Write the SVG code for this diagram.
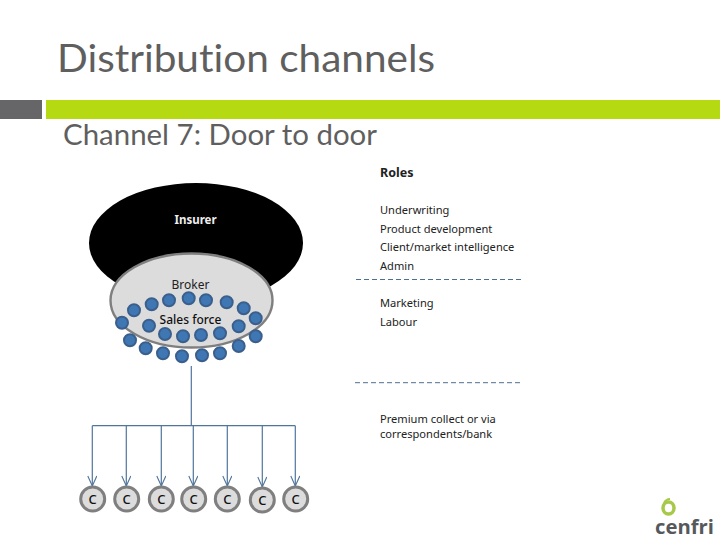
<svg xmlns="http://www.w3.org/2000/svg" width="720" height="540" viewBox="0 0 720 540">
<style>
.h{font-family:Lato,"Open Sans",sans-serif;fill:#5f5f60;font-variant-ligatures:none}
.r{font-family:"Noto Sans","Open Sans",sans-serif;font-size:11.1px;fill:#222}
.b{fill:#3f77b4;stroke:#3a5f8c;stroke-width:2}
.c{fill:#dcdcdc;stroke:#7f7f7f;stroke-width:3}
.ct{font-family:"Noto Sans",sans-serif;font-size:13px;font-weight:500;fill:#111;text-anchor:middle}
.w{fill:none;stroke:#50759b;stroke-width:1.2}
.d{fill:none;stroke:#4d6f92;stroke-width:1;stroke-dasharray:5 3}
</style>
<defs>
<marker id="a" markerUnits="userSpaceOnUse" markerWidth="12" markerHeight="10" refX="11" refY="5" orient="auto"><path d="M1 0.5L11 5L1 9.5" fill="none" stroke="#50759b" stroke-width="1.1"/></marker>
<circle id="dot" r="6" class="b"/>
</defs>
<rect width="720" height="540" fill="#fff"/>
<g id="header">
<text class="h" x="57" y="72" font-size="38.5" textLength="378" lengthAdjust="spacingAndGlyphs">Distribution channels</text>
<rect x="0" y="100" width="42" height="19" fill="#666567"/>
<rect x="46" y="100" width="674" height="19" fill="#b5da12"/>
<text class="h" x="63" y="145" font-size="28" textLength="314" lengthAdjust="spacingAndGlyphs">Channel 7: Door to door</text>
</g>
<g id="insurer">
<ellipse cx="196" cy="243" rx="107" ry="60" fill="#000"/>
<text x="195.500" y="224" font-family="'Noto Sans',sans-serif" font-size="11.500" font-weight="700" fill="#eee" text-anchor="middle">Insurer</text>
</g>
<g id="broker">
<ellipse cx="191.5" cy="300.500" rx="81" ry="47" fill="#dcdcdc" stroke="#7f7f7f" stroke-width="2.400"/>
<text x="190.500" y="289" font-family="'Noto Sans',sans-serif" font-size="12" fill="#222" text-anchor="middle">Broker</text>
</g>
<g id="sales-force">
<use href="#dot" x="122" y="322.700"/><use href="#dot" x="134" y="310.300"/><use href="#dot" x="151.700" y="304.300"/><use href="#dot" x="169" y="300.300"/><use href="#dot" x="188.700" y="298.300"/><use href="#dot" x="206" y="300.300"/><use href="#dot" x="226.700" y="302.300"/><use href="#dot" x="243.700" y="308.300"/><use href="#dot" x="255.700" y="318.300"/><use href="#dot" x="238.700" y="326.300"/><use href="#dot" x="149" y="325.700"/><use href="#dot" x="165" y="334"/><use href="#dot" x="183" y="336.300"/><use href="#dot" x="201" y="335"/><use href="#dot" x="220" y="333.300"/><use href="#dot" x="130" y="340.300"/><use href="#dot" x="145.700" y="348.300"/><use href="#dot" x="163" y="353.300"/><use href="#dot" x="182" y="356.300"/><use href="#dot" x="202" y="355.300"/><use href="#dot" x="220" y="353.300"/><use href="#dot" x="238.700" y="346"/><use href="#dot" x="255.700" y="336.300"/>
<text x="190.500" y="323.500" font-family="'Noto Sans',sans-serif" font-size="12" font-weight="500" fill="#111" text-anchor="middle">Sales force</text>
</g>
<g id="connectors">
<path class="w" d="M191.300 366V425.700M92.300 425.700H295.300"/>
<path class="w" marker-end="url(#a)" d="M92.300 425.700V486"/>
<path class="w" marker-end="url(#a)" d="M126.300 425.700V486"/>
<path class="w" marker-end="url(#a)" d="M161.300 425.700V486"/>
<path class="w" marker-end="url(#a)" d="M193.300 425.700V486"/>
<path class="w" marker-end="url(#a)" d="M227.300 425.700V486"/>
<path class="w" marker-end="url(#a)" d="M262.300 425.700V487"/>
<path class="w" marker-end="url(#a)" d="M295.300 425.700V486"/>
<path class="d" d="M356 279.500H523"/>
<path class="d" d="M355 382.700H523"/>
</g>
<g id="c1"><circle class="c" cx="92.700" cy="499" r="12"/><text class="ct" x="92.700" y="503.500">C</text></g>
<g id="c2"><circle class="c" cx="126.700" cy="499" r="12"/><text class="ct" x="126.700" y="503.500">C</text></g>
<g id="c3"><circle class="c" cx="161.300" cy="499" r="12"/><text class="ct" x="161.300" y="503.500">C</text></g>
<g id="c4"><circle class="c" cx="193.700" cy="499" r="12"/><text class="ct" x="193.700" y="503.500">C</text></g>
<g id="c5"><circle class="c" cx="227.300" cy="499" r="12"/><text class="ct" x="227.300" y="503.500">C</text></g>
<g id="c6"><circle class="c" cx="262.300" cy="500" r="12"/><text class="ct" x="262.300" y="504.500">C</text></g>
<g id="c7"><circle class="c" cx="295.700" cy="499" r="12"/><text class="ct" x="295.700" y="503.500">C</text></g>
<g id="roles">
<text class="r" x="380" y="176.500" font-weight="700" style="font-size:12.500px">Roles</text>
<text class="r" x="380" y="214">Underwriting</text>
<text class="r" x="380" y="233">Product development</text>
<text class="r" x="380" y="251">Client/market intelligence</text>
<text class="r" x="380" y="270">Admin</text>
<text class="r" x="380" y="307">Marketing</text>
<text class="r" x="380" y="326">Labour</text>
<text class="r" x="380" y="423">Premium collect or via</text>
<text class="r" x="380" y="438">correspondents/bank</text>
</g>
<g id="logo">
<ellipse cx="668.500" cy="508" rx="5.500" ry="6" fill="none" stroke="#a8c84a" stroke-width="3.500"/>
<path d="M664 503Q666 499 670 499" fill="none" stroke="#a8c84a" stroke-width="2"/>
<text x="655" y="534" font-family="'Open Sans',sans-serif" font-size="19" font-weight="700" fill="#55595c" textLength="59" lengthAdjust="spacingAndGlyphs">cenfri</text>
</g>
</svg>
